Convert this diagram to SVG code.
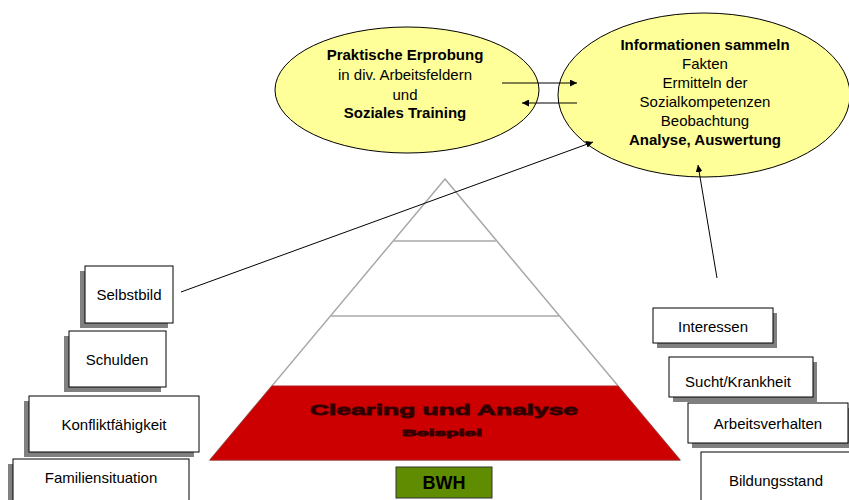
<svg xmlns="http://www.w3.org/2000/svg" width="849" height="500" viewBox="0 0 849 500">
<defs>
<marker id="ah" viewBox="0 0 10 10" refX="10" refY="5" markerWidth="7" markerHeight="7" markerUnits="userSpaceOnUse" orient="auto"><path d="M0,0 L10,5 L0,10 z" fill="#000"/></marker>
<style>
text{font-family:"Liberation Sans",Arial,sans-serif;fill:#000}
.t{font-size:15px;text-anchor:middle}
.b{font-weight:bold}
.ell{fill:#ffff99;stroke:#000;stroke-width:1}
.box{fill:#fff;stroke:#000;stroke-width:1}
.sh{fill:#808080}
.con{stroke:#000;stroke-width:1;fill:none}
.pyr{fill:#fff;stroke:#a8a8a8;stroke-width:1.5}
.cl{font-weight:bold;text-anchor:middle;fill:#2a0000;stroke:#3a0000;stroke-width:0.8}
</style>
</defs>
<rect width="849" height="500" fill="#fff"/>

<g id="pyramid">
<polygon class="pyr" points="445,179 210,460 680,460"/>
<line x1="394" y1="241" x2="496" y2="241" stroke="#a8a8a8" stroke-width="1.5"/>
<line x1="331" y1="316" x2="559" y2="316" stroke="#a8a8a8" stroke-width="1.5"/>
<polygon points="272,386 618,386 680,460 210,460" fill="#cc0000" stroke="#b02020" stroke-width="1"/>
<text class="cl" x="444" y="415" font-size="15" textLength="268" lengthAdjust="spacingAndGlyphs">Clearing und Analyse</text>
<text class="cl" x="442" y="436" font-size="9" textLength="80" lengthAdjust="spacingAndGlyphs">Beispiel</text>
</g>

<g id="bwh">
<rect x="396" y="467" width="96" height="31" fill="#5f8c00" stroke="#333" stroke-width="1"/>
<text class="b" x="444" y="489" style="font-size:18px;text-anchor:middle">BWH</text>
</g>

<g id="praxis">
<ellipse class="ell" cx="407" cy="90" rx="132" ry="63"/>
<text class="t b" x="405" y="60">Praktische Erprobung</text>
<text class="t" x="405" y="80">in div. Arbeitsfeldern</text>
<text class="t" x="405" y="100">und</text>
<text class="t b" x="405" y="118">Soziales Training</text>
</g>

<g id="info">
<ellipse class="ell" cx="704" cy="95" rx="146" ry="82"/>
<text class="t b" x="705" y="50">Informationen sammeln</text>
<text class="t" x="705" y="69">Fakten</text>
<text class="t" x="705" y="88">Ermitteln der</text>
<text class="t" x="705" y="107">Sozialkompetenzen</text>
<text class="t" x="705" y="126">Beobachtung</text>
<text class="t b" x="705" y="145">Analyse, Auswertung</text>
</g>

<g id="selbstbild">
<rect class="sh" x="80" y="271" width="88" height="57"/>
<rect class="box" x="85" y="266" width="88" height="57"/>
<text class="t" x="129" y="300">Selbstbild</text>
</g>
<g id="schulden">
<rect class="sh" x="64" y="336" width="97" height="56"/>
<rect class="box" x="69" y="331" width="97" height="56"/>
<text class="t" x="117" y="365">Schulden</text>
</g>
<g id="konflikt">
<rect class="sh" x="24" y="401" width="170" height="56"/>
<rect class="box" x="29" y="396" width="170" height="56"/>
<text class="t" x="114" y="430">Konfliktfähigkeit</text>
</g>
<g id="familie">
<rect class="sh" x="8" y="464" width="176" height="40"/>
<rect class="box" x="13" y="459" width="176" height="45"/>
<text class="t" x="101" y="483">Familiensituation</text>
</g>

<g id="interessen">
<rect class="sh" x="657" y="313" width="120" height="35"/>
<rect class="box" x="653" y="308" width="120" height="35"/>
<text class="t" x="713" y="332">Interessen</text>
</g>
<g id="sucht">
<rect class="sh" x="673" y="362" width="144" height="40"/>
<rect class="box" x="669" y="357" width="144" height="40"/>
<text class="t" x="738" y="387">Sucht/Krankheit</text>
</g>
<g id="arbeit">
<rect class="sh" x="692" y="408" width="160" height="40"/>
<rect class="box" x="688" y="403" width="160" height="40"/>
<text class="t" x="768" y="429">Arbeitsverhalten</text>
</g>
<g id="bildung">
<rect class="sh" x="705" y="457" width="150" height="48"/>
<rect class="box" x="701" y="452" width="150" height="50"/>
<text class="t" x="776" y="486">Bildungsstand</text>
</g>

<g id="connectors">
<line class="con" x1="502" y1="83" x2="577" y2="83" marker-end="url(#ah)"/>
<line class="con" x1="577" y1="103" x2="522" y2="103" marker-end="url(#ah)"/>
<line class="con" x1="181" y1="292" x2="593" y2="142" marker-end="url(#ah)"/>
<line class="con" x1="717" y1="278" x2="698" y2="165" marker-end="url(#ah)"/>
</g>
</svg>
